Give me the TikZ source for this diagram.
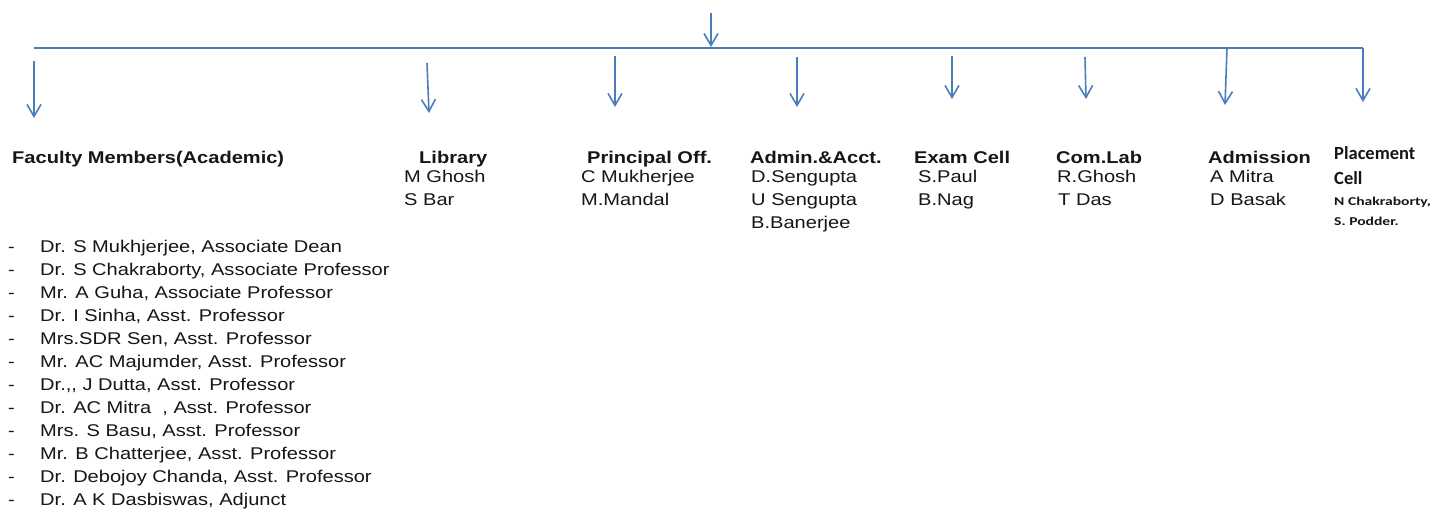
\documentclass[tikz,border=0pt]{standalone}
\usepackage{fontspec}
\setmainfont{Liberation Sans}[FakeStretch=1.18]
\newfontfamily\calfont{Carlito}
\newfontfamily\calsmall{Carlito}[FakeStretch=1.3]
\usetikzlibrary{arrows.meta}
\definecolor{lineblue}{RGB}{74,126,187}
\definecolor{txt}{RGB}{22,22,22}
\tikzset{
  conn/.style={draw=lineblue, line width=1.6pt, -{Straight Barb[length=12pt,width=14pt]}},
  head/.style={anchor=base west, inner sep=0pt, font=\fontsize{17}{20}\selectfont\bfseries, text=txt},
  entry/.style={anchor=base west, inner sep=0pt, font=\fontsize{17}{20}\selectfont, text=txt},
  plhead/.style={anchor=base west, inner sep=0pt, font=\calfont\fontsize{18.5}{20}\selectfont\bfseries, text=txt},
  plentry/.style={anchor=base west, inner sep=0pt, font=\calsmall\fontsize{12}{14}\selectfont\bfseries, text=txt},
}
\begin{document}
\begin{tikzpicture}[x=1pt,y=-1pt]
\useasboundingbox (0,0) rectangle (1442,512);
\fill[white] (0,0) rectangle (1442,512);

% connector coordinates
\coordinate (topS) at (711,13);
\coordinate (topE) at (711,47);
\coordinate (barL) at (34,48);
\coordinate (barR) at (1363,48);
\coordinate (s1) at (34,61);    \coordinate (e1) at (34,118);
\coordinate (s2) at (427,63);   \coordinate (e2) at (429,113);
\coordinate (s3) at (615,56);   \coordinate (e3) at (615,107);
\coordinate (s4) at (797,57);   \coordinate (e4) at (797,107);
\coordinate (s5) at (952,56);   \coordinate (e5) at (952,99);
\coordinate (s6) at (1085,57);  \coordinate (e6) at (1086,99);
\coordinate (s7) at (1227,48);  \coordinate (e7) at (1225,105);
\coordinate (e8) at (1363,102);

\draw[conn] (topS) -- (topE);
\draw[draw=lineblue, line width=1.6pt] (barL) -- (barR);
\draw[conn] (barR) -- (e8);
\draw[conn] (s1) -- (e1);
\draw[conn] (s2) -- (e2);
\draw[conn] (s3) -- (e3);
\draw[conn] (s4) -- (e4);
\draw[conn] (s5) -- (e5);
\draw[conn] (s6) -- (e6);
\draw[conn] (s7) -- (e7);

% headings
\node[head] (fac) at (12,163) {Faculty Members(Academic)};
\node[head] (lib) at (419,163) {Library};
\node[head] (prin) at (587,163) {Principal Off.};
\node[head] (adm) at (750,163) {Admin.\&Acct.};
\node[head] (exam) at (914,163) {Exam Cell};
\node[head] (com) at (1056,163) {Com.Lab};
\node[head] (admis) at (1208,163) {Admission};
\node[plhead] (plc1) at (1334,159) {Placement};
\node[plhead] (plc2) at (1334,184) {Cell};

% entries
\node[entry] (lib1) at (404,182) {M Ghosh};
\node[entry] (lib2) at (404,205) {S Bar};
\node[entry] (prin1) at (581,182) {C Mukherjee};
\node[entry] (prin2) at (581,205) {M.Mandal};
\node[entry] (adm1) at (751,182) {D.Sengupta};
\node[entry] (adm2) at (751,205) {U Sengupta};
\node[entry] (adm3) at (751,228) {B.Banerjee};
\node[entry] (exam1) at (918,182) {S.Paul};
\node[entry] (exam2) at (918,205) {B.Nag};
\node[entry] (com1) at (1057,182) {R.Ghosh};
\node[entry] (com2) at (1058,205) {T Das};
\node[entry] (admis1) at (1210,182) {A Mitra};
\node[entry] (admis2) at (1210,205) {D Basak};
\node[plentry] (plc3) at (1334,205) {N Chakraborty,};
\node[plentry] (plc4) at (1334,225) {S. Podder.};

% faculty list
\foreach \t [count=\i from 0] in {
  {Dr. S Mukhjerjee, Associate Dean},
  {Dr. S Chakraborty, Associate Professor},
  {Mr. A Guha, Associate Professor},
  {Dr. I Sinha, Asst. Professor},
  {Mrs.SDR Sen, Asst. Professor},
  {Mr. AC Majumder, Asst. Professor},
  {Dr.{,}{,} J Dutta, Asst. Professor},
  {Dr. AC Mitra\ \ , Asst. Professor},
  {Mrs. S Basu, Asst. Professor},
  {Mr. B Chatterjee, Asst. Professor},
  {Dr. Debojoy Chanda, Asst. Professor},
  {Dr. A K Dasbiswas, Adjunct}} {
  \node[entry] (dash\i) at (8,{252+23*\i}) {-};
  \node[entry] (item\i) at (40,{252+23*\i}) {\t};
}
\end{tikzpicture}
\end{document}
